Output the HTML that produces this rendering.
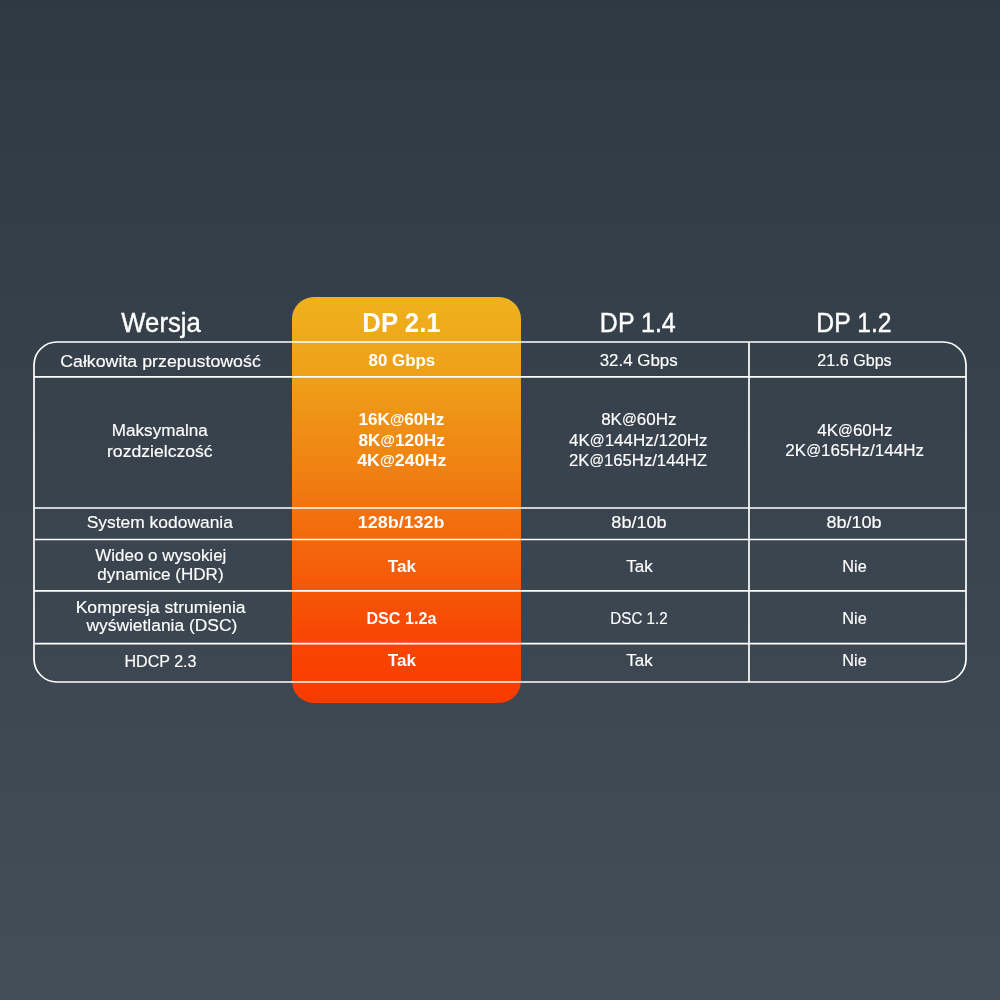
<!DOCTYPE html>
<html><head><meta charset="utf-8"><style>
html,body{margin:0;padding:0;width:1000px;height:1000px;overflow:hidden;background:#444e59;}
svg{display:block;will-change:transform;}
text{font-family:"Liberation Sans",sans-serif;fill:#ffffff;text-anchor:middle;}
</style></head><body>
<svg width="1000" height="1000" viewBox="0 0 1000 1000">
<defs>
<linearGradient id="bg" x1="0" y1="0" x2="0" y2="1">
<stop offset="0" stop-color="#2f3944"/><stop offset="1" stop-color="#444e59"/>
</linearGradient>
<linearGradient id="og" x1="0" y1="0" x2="0" y2="1">
<stop offset="0" stop-color="#efb21d"/><stop offset="0.2" stop-color="#ee9f19"/><stop offset="0.43" stop-color="#f08012"/><stop offset="0.6" stop-color="#f3680c"/><stop offset="0.84" stop-color="#f84603"/><stop offset="1" stop-color="#f93a00"/>
</linearGradient>
</defs>
<rect x="0" y="0" width="1000" height="1000" fill="url(#bg)"/>
<rect x="292" y="297" width="229" height="406" rx="22" ry="22" fill="url(#og)"/>
<g fill="none" stroke="#ffffff" stroke-width="1.7">
<rect x="34" y="342" width="932" height="340" rx="23" ry="23"/>
<line x1="34" y1="376.8" x2="966" y2="376.8"/><line x1="34" y1="508" x2="966" y2="508"/><line x1="34" y1="539.5" x2="966" y2="539.5"/><line x1="34" y1="590.8" x2="966" y2="590.8"/><line x1="34" y1="643.6" x2="966" y2="643.6"/>
<line x1="749" y1="342" x2="749" y2="682"/>
</g>
<g opacity="0.999">
<text x="161.05" y="331.60" font-size="27.4" style="stroke:#fff;stroke-width:0.4px" textLength="79.56" lengthAdjust="spacingAndGlyphs">Wersja</text>
<text x="401.51" y="331.50" font-size="27.4" font-weight="bold" textLength="78.29" lengthAdjust="spacingAndGlyphs">DP 2.1</text>
<text x="637.79" y="331.50" font-size="27.4" style="stroke:#fff;stroke-width:0.4px" textLength="75.84" lengthAdjust="spacingAndGlyphs">DP 1.4</text>
<text x="853.98" y="331.50" font-size="27.4" style="stroke:#fff;stroke-width:0.4px" textLength="75.23" lengthAdjust="spacingAndGlyphs">DP 1.2</text>
<text x="160.47" y="367.30" font-size="17.2" style="stroke:#fff;stroke-width:0.15px" textLength="200.62" lengthAdjust="spacingAndGlyphs">Całkowita przepustowość</text>
<text x="401.85" y="365.90" font-size="17.2" font-weight="bold" textLength="66.70" lengthAdjust="spacingAndGlyphs">80 Gbps</text>
<text x="638.64" y="366.00" font-size="17.2" style="stroke:#fff;stroke-width:0.15px" textLength="77.99" lengthAdjust="spacingAndGlyphs">32.4 Gbps</text>
<text x="854.49" y="366.00" font-size="17.2" style="stroke:#fff;stroke-width:0.15px" textLength="74.29" lengthAdjust="spacingAndGlyphs">21.6 Gbps</text>
<text x="159.78" y="435.50" font-size="17.2" style="stroke:#fff;stroke-width:0.15px" textLength="95.97" lengthAdjust="spacingAndGlyphs">Maksymalna</text>
<text x="159.84" y="456.50" font-size="17.2" style="stroke:#fff;stroke-width:0.15px" textLength="105.70" lengthAdjust="spacingAndGlyphs">rozdzielczość</text>
<text x="401.40" y="424.70" font-size="17.2" font-weight="bold" textLength="85.88" lengthAdjust="spacingAndGlyphs">16K<tspan font-size="14.79" dy="-0.8">@</tspan><tspan dy="0.8">60Hz</tspan></text>
<text x="401.65" y="445.50" font-size="17.2" font-weight="bold" textLength="86.36" lengthAdjust="spacingAndGlyphs">8K<tspan font-size="14.79" dy="-0.8">@</tspan><tspan dy="0.8">120Hz</tspan></text>
<text x="401.75" y="465.70" font-size="17.2" font-weight="bold" textLength="89.16" lengthAdjust="spacingAndGlyphs">4K<tspan font-size="14.79" dy="-0.8">@</tspan><tspan dy="0.8">240Hz</tspan></text>
<text x="638.81" y="424.80" font-size="17.2" style="stroke:#fff;stroke-width:0.15px" textLength="75.31" lengthAdjust="spacingAndGlyphs">8K<tspan font-size="14.79" dy="-0.8">@</tspan><tspan dy="0.8">60Hz</tspan></text>
<text x="638.31" y="445.60" font-size="17.2" style="stroke:#fff;stroke-width:0.15px" textLength="138.60" lengthAdjust="spacingAndGlyphs">4K<tspan font-size="14.79" dy="-0.8">@</tspan><tspan dy="0.8">144Hz/120Hz</tspan></text>
<text x="637.99" y="465.60" font-size="17.2" style="stroke:#fff;stroke-width:0.15px" textLength="137.96" lengthAdjust="spacingAndGlyphs">2K<tspan font-size="14.79" dy="-0.8">@</tspan><tspan dy="0.8">165Hz/144HZ</tspan></text>
<text x="854.91" y="435.60" font-size="17.2" style="stroke:#fff;stroke-width:0.15px" textLength="75.45" lengthAdjust="spacingAndGlyphs">4K<tspan font-size="14.79" dy="-0.8">@</tspan><tspan dy="0.8">60Hz</tspan></text>
<text x="854.65" y="455.60" font-size="17.2" style="stroke:#fff;stroke-width:0.15px" textLength="138.64" lengthAdjust="spacingAndGlyphs">2K<tspan font-size="14.79" dy="-0.8">@</tspan><tspan dy="0.8">165Hz/144Hz</tspan></text>
<text x="159.79" y="528.00" font-size="17.2" style="stroke:#fff;stroke-width:0.15px" textLength="146.29" lengthAdjust="spacingAndGlyphs">System kodowania</text>
<text x="401.16" y="528.00" font-size="17.2" font-weight="bold" textLength="86.74" lengthAdjust="spacingAndGlyphs">128b/132b</text>
<text x="638.99" y="528.00" font-size="17.2" style="stroke:#fff;stroke-width:0.15px" textLength="55.32" lengthAdjust="spacingAndGlyphs">8b/10b</text>
<text x="854.06" y="528.00" font-size="17.2" style="stroke:#fff;stroke-width:0.15px" textLength="55.12" lengthAdjust="spacingAndGlyphs">8b/10b</text>
<text x="160.85" y="560.60" font-size="17.2" style="stroke:#fff;stroke-width:0.15px" textLength="131.00" lengthAdjust="spacingAndGlyphs">Wideo o wysokiej</text>
<text x="160.51" y="580.00" font-size="17.2" style="stroke:#fff;stroke-width:0.15px" textLength="126.33" lengthAdjust="spacingAndGlyphs">dynamice (HDR)</text>
<text x="401.95" y="571.50" font-size="17.2" font-weight="bold" textLength="28.21" lengthAdjust="spacingAndGlyphs">Tak</text>
<text x="639.57" y="571.50" font-size="17.2" style="stroke:#fff;stroke-width:0.15px" textLength="26.42" lengthAdjust="spacingAndGlyphs">Tak</text>
<text x="854.49" y="571.50" font-size="17.2" style="stroke:#fff;stroke-width:0.15px" textLength="24.42" lengthAdjust="spacingAndGlyphs">Nie</text>
<text x="160.61" y="612.60" font-size="17.2" style="stroke:#fff;stroke-width:0.15px" textLength="169.93" lengthAdjust="spacingAndGlyphs">Kompresja strumienia</text>
<text x="161.88" y="631.00" font-size="17.2" style="stroke:#fff;stroke-width:0.15px" textLength="150.89" lengthAdjust="spacingAndGlyphs">wyświetlania (DSC)</text>
<text x="401.41" y="624.00" font-size="17.2" font-weight="bold" textLength="69.88" lengthAdjust="spacingAndGlyphs">DSC 1.2a</text>
<text x="639.00" y="624.00" font-size="17.2" style="stroke:#fff;stroke-width:0.15px" textLength="57.33" lengthAdjust="spacingAndGlyphs">DSC 1.2</text>
<text x="854.49" y="624.00" font-size="17.2" style="stroke:#fff;stroke-width:0.15px" textLength="24.42" lengthAdjust="spacingAndGlyphs">Nie</text>
<text x="160.49" y="666.50" font-size="17.2" style="stroke:#fff;stroke-width:0.15px" textLength="71.98" lengthAdjust="spacingAndGlyphs">HDCP 2.3</text>
<text x="401.95" y="666.40" font-size="17.2" font-weight="bold" textLength="28.21" lengthAdjust="spacingAndGlyphs">Tak</text>
<text x="639.57" y="666.40" font-size="17.2" style="stroke:#fff;stroke-width:0.15px" textLength="26.42" lengthAdjust="spacingAndGlyphs">Tak</text>
<text x="854.49" y="666.40" font-size="17.2" style="stroke:#fff;stroke-width:0.15px" textLength="24.42" lengthAdjust="spacingAndGlyphs">Nie</text>
</g>
</svg>
</body></html>
